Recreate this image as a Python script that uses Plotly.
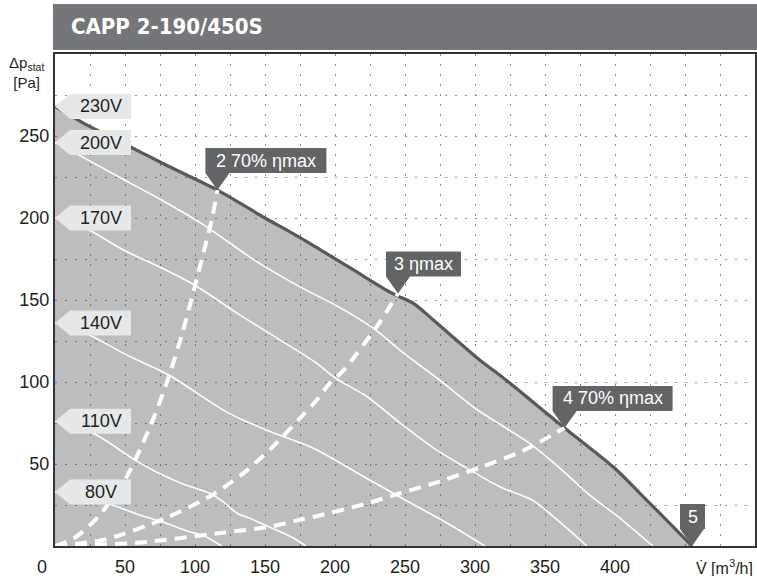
import plotly.graph_objects as go

# ---------------- data ----------------
v230_x = [0, 20, 50, 80, 116, 150, 175, 210, 241, 256, 270, 304, 318, 364, 399, 418, 455]
v230_y = [268, 258, 245, 232, 217, 200, 188, 170, 154, 148, 138, 113, 104, 72, 48, 32, 0]

v200_x = [0, 18, 50, 76, 104, 143, 175, 200, 227, 250, 275, 300, 320, 340, 360, 382, 405, 427]
v200_y = [246, 238, 223, 211, 197, 174, 158, 147, 133, 117, 101, 84, 73, 62, 48, 31, 16, 0]

v170_x = [0, 21, 50, 75, 100, 130, 160, 186, 201, 223, 245, 270, 295, 318, 341, 360, 380]
v170_y = [200, 194, 180, 170, 159, 142, 126, 112, 102, 91, 76, 60, 47, 36, 28, 15, 0]

v140_x = [0, 24, 50, 82, 107, 124, 150, 186, 215, 246, 280, 307]
v140_y = [136, 129, 117, 104, 90, 81, 71, 59, 45, 30, 14, 0]

v110_x = [0, 29, 56, 75, 91, 111, 120, 130, 139, 152, 170, 179]
v110_y = [76, 68, 53, 44, 38, 32, 27, 20, 17, 12, 5, 0]

v80_x = [0, 20, 41, 60, 79, 95, 107, 119]
v80_y = [33, 30, 25, 19, 14, 9, 6, 0]

eta2_x = [0, 14, 31, 51, 69, 82, 91, 98, 107, 112, 116]
eta2_y = [0, 5, 18, 42, 75, 105, 130, 152, 182, 199, 217]

eta3_x = [0, 36, 79, 112, 134, 155, 175, 187, 196, 206, 230, 245]
eta3_y = [0, 4, 17, 31, 44, 60, 78, 89, 99, 107, 134, 154]

eta4_x = [0, 59, 119, 155, 175, 186, 223, 246, 277, 304, 334, 364]
eta4_y = [0, 2, 8, 12, 16, 18, 26, 32, 40, 48, 58, 72]

volt_labels = ["230V", "200V", "170V", "140V", "110V", "80V"]
point_labels = ["2 70% ηmax", "3 ηmax", "4 70% ηmax", "5"]

x_tickvals = [50, 100, 150, 200, 250, 300, 350, 400]
x_ticktext = ["50", "100", "150", "200", "250", "300", "350", "400"]
y_tickvals = [50, 100, 150, 200, 250]
y_ticktext = ["50", "100", "150", "200", "250"]

title_text = "CAPP 2-190/450S"
x_title = "V̇ [m<sup>3</sup>/h]"
y_title = "Δp<sub>stat</sub><br>[Pa]"

# ---------------- styles ----------------
FONT = "Liberation Sans, Arial, Helvetica, sans-serif"
TXT = "#231f20"
DARK = "#636466"
LIGHT = "#e6e7e8"
point_box_w = [121, 75, 120, 25]

fig = go.Figure()

# max curve with filled area
fig.add_trace(go.Scatter(
    x=v230_x, y=v230_y, mode="lines", fill="tozeroy",
    fillcolor="rgba(60,62,68,0.34)",
    line=dict(color="#58595b", width=3.2, shape="spline", smoothing=0.9),
    hoverinfo="skip", showlegend=False))

for xs, ys in [(v200_x, v200_y), (v170_x, v170_y), (v140_x, v140_y),
               (v110_x, v110_y), (v80_x, v80_y)]:
    fig.add_trace(go.Scatter(
        x=xs, y=ys, mode="lines",
        line=dict(color="white", width=1.6, shape="spline", smoothing=0.8),
        hoverinfo="skip", showlegend=False))

for xs, ys in [(eta2_x, eta2_y), (eta3_x, eta3_y), (eta4_x, eta4_y)]:
    fig.add_trace(go.Scatter(
        x=xs, y=ys, mode="lines",
        line=dict(color="white", width=4, dash="12px,8px", shape="spline", smoothing=0.8),
        hoverinfo="skip", showlegend=False))

shapes = []
annotations = []

# voltage labels at the start of each curve
volt_curves = [v230_y, v200_y, v170_y, v140_y, v110_y, v80_y]
for lab, ys in zip(volt_labels, volt_curves):
    shapes.append(dict(
        type="path", xref="x", yref="y", xsizemode="pixel", ysizemode="pixel",
        xanchor=0, yanchor=ys[0],
        path="M0,0 L15,12.5 L76,12.5 L76,-12.5 L15,-12.5 Z",
        fillcolor=LIGHT, line=dict(width=0), layer="above"))
    annotations.append(dict(
        x=0, y=ys[0], xref="x", yref="y", text=lab, showarrow=False,
        xanchor="center", yanchor="middle", xshift=46, yshift=0,
        font=dict(family=FONT, size=18, color=TXT)))

# dark callouts at the ends of the efficiency curves and the max curve
anchors = [(eta2_x[-1], eta2_y[-1]), (eta3_x[-1], eta3_y[-1]),
           (eta4_x[-1], eta4_y[-1]), (v230_x[-1], v230_y[-1])]
for lab, (ax, ay), w in zip(point_labels, anchors, point_box_w):
    r = w - 12
    shapes.append(dict(
        type="path", xref="x", yref="y", xsizemode="pixel", ysizemode="pixel",
        xanchor=ax, yanchor=ay,
        path=f"M0,0 L-12,17 L-12,42 L{r},42 L{r},17 L12,17 Z",
        fillcolor=DARK, line=dict(width=0), layer="above"))
    annotations.append(dict(
        x=ax, y=ay, xref="x", yref="y", text=lab, showarrow=False,
        xanchor="center", yanchor="middle", xshift=w / 2 - 12, yshift=29.5,
        font=dict(family=FONT, size=18, color="white")))

# title bar
shapes.append(dict(type="rect", xref="paper", yref="paper",
                   x0=-2 / 700, x1=1 + 3 / 700, y0=1 + 4 / 492, y1=1 + 50 / 492,
                   fillcolor="#757679", line=dict(width=0), layer="above"))
annotations.append(dict(
    x=14 / 700, y=1 + 27 / 492, xref="paper", yref="paper", text="<b>" + title_text + "</b>",
    showarrow=False, xanchor="left", yanchor="middle",
    font=dict(family="Liberation Sans Narrow, DejaVu Sans Condensed, Arial Narrow, sans-serif",
              size=22, color="white")))

# axis titles and origin label
annotations.append(dict(
    x=1, y=0, xref="paper", yref="paper", text=x_title, showarrow=False,
    xanchor="right", yanchor="middle", yshift=-21,
    font=dict(family=FONT, size=16, color=TXT)))
annotations.append(dict(
    x=0, y=1, xref="paper", yref="paper", text=y_title, showarrow=False,
    xanchor="center", yanchor="top", xshift=-29, yshift=2, align="center",
    font=dict(family=FONT, size=15, color=TXT)))
annotations.append(dict(
    x=0, y=0, xref="x", yref="paper", text="0", showarrow=False,
    xanchor="center", yanchor="middle", xshift=-13, yshift=-21,
    font=dict(family=FONT, size=18, color=TXT)))

grid = dict(gridcolor="#8e8f92", gridwidth=1, griddash="2px,8px")

fig.update_layout(
    width=757, height=576,
    margin=dict(l=55, r=2, t=54, b=30, autoexpand=False),
    paper_bgcolor="white", plot_bgcolor="white",
    font=dict(family=FONT, size=18, color=TXT),
    shapes=shapes, annotations=annotations,
    xaxis=dict(range=[0, 500], tickmode="array", tickvals=x_tickvals, ticktext=x_ticktext,
               showgrid=True, **grid, zeroline=False, automargin=False,
               showline=True, linecolor="#333333", linewidth=2, mirror=True,
               ticks="", tickfont=dict(size=18, color=TXT), ticklabelstandoff=3,
               minor=dict(dtick=25, tick0=0, showgrid=True, **grid, ticks="")),
    yaxis=dict(range=[0, 300], tickmode="array", tickvals=y_tickvals, ticktext=y_ticktext,
               showgrid=True, **grid, zeroline=False, automargin=False,
               showline=True, linecolor="#333333", linewidth=2, mirror=True,
               ticks="", tickfont=dict(size=18, color=TXT),
               minor=dict(dtick=25, tick0=0, showgrid=True, **grid, ticks="")),
)

fig.write_html("out.html", config={"displayModeBar": False},
               post_script="document.body.style.margin='0';document.body.style.padding='0';document.body.style.overflow='hidden';")
